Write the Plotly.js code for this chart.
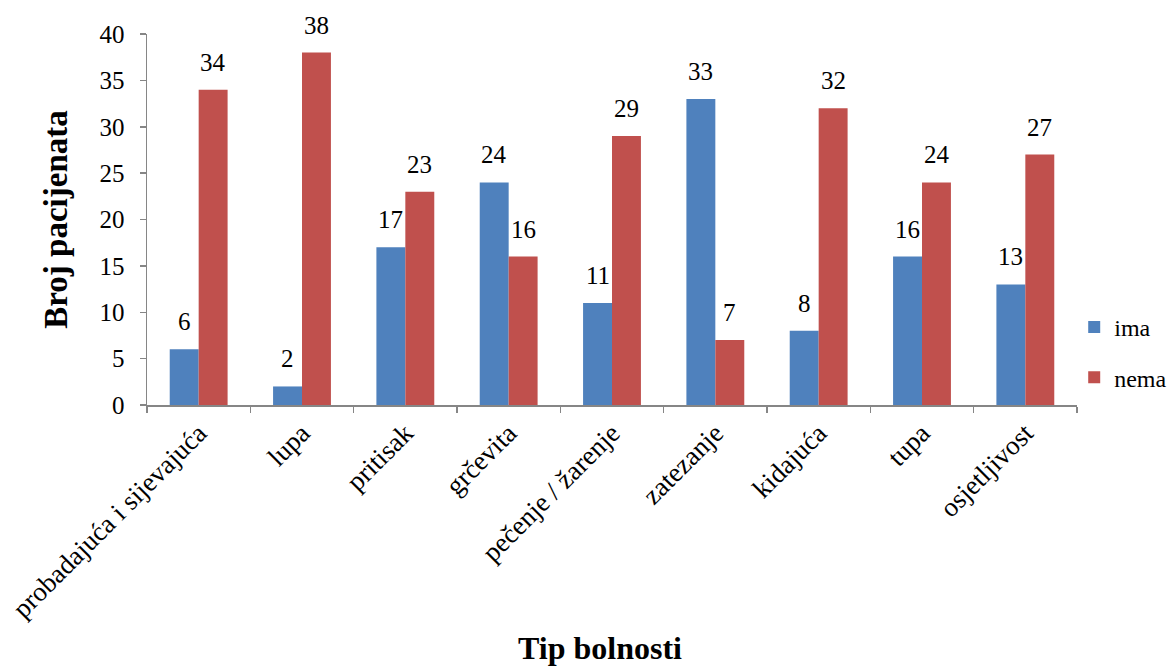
<!DOCTYPE html>
<html>
<head>
<meta charset="utf-8">
<script src="https://cdn.plot.ly/plotly-3.0.1.min.js"></script>
<style>html,body{margin:0;padding:0;background:#fff;}#chart{width:1171px;height:666px;}</style>
</head>
<body>
<div id="chart"></div>
<script>
const categories = ["probadajuća i sijevajuća","lupa","pritisak","grčevita","pečenje / žarenje","zatezanje","kidajuća","tupa","osjetljivost"];
const ima = [6,2,17,24,11,33,8,16,13];
const nema = [34,38,23,16,29,7,32,24,27];
const yTicks = [0,5,10,15,20,25,30,35,40];

const font = {family: "Liberation Serif", color: "#000"};
const traces = [
  {type:"bar", name:"ima", x:categories, y:ima, marker:{color:"#4F81BD"}, legendgroup:"a"},
  {type:"bar", name:"nema", x:categories, y:nema, marker:{color:"#C0504D"}, legendgroup:"b"}
];
const annotations = [];
categories.forEach((c, i) => {
  annotations.push({x:c, y:ima[i], text:String(ima[i]), showarrow:false, xanchor:"center", yanchor:"bottom",
    xshift:-14.5, yshift:12, font:{...font, size:25}});
  annotations.push({x:c, y:nema[i], text:String(nema[i]), showarrow:false, xanchor:"center", yanchor:"bottom",
    xshift:14.5, yshift:12, font:{...font, size:25}});
});
const layout = {
  width:1171, height:666,
  margin:{l:147, r:94, t:34, b:261, autoexpand:false},
  paper_bgcolor:"#fff", plot_bgcolor:"#fff",
  font:{...font, size:24},
  barmode:"group", bargap:0.44, bargroupgap:0,
  showlegend:true,
  annotations:annotations,
  legend:{x:0.997, xanchor:"left", y:0.27, yanchor:"top", font:{...font, size:24}, traceorder:"grouped", tracegroupgap:16, itemwidth:30},
  xaxis:{
    type:"category", tickangle:-45, tickfont:{...font, size:27},
    showline:true, linecolor:"#868686", linewidth:1.5,
    ticks:"outside", tickson:"boundaries", ticklen:6, tickcolor:"#868686", tickwidth:1.5,
    title:{text:"<b>Tip bolnosti</b>&nbsp;&nbsp;&nbsp;", font:{...font, size:32}, standoff:30},
    showgrid:false, zeroline:false
  },
  yaxis:{
    range:[0,40], tickvals:yTicks, ticktext:yTicks.map(String), tickfont:{...font, size:25},
    showline:true, linecolor:"#868686", linewidth:1.5,
    ticks:"outside", ticklen:6, tickcolor:"#868686", tickwidth:1.5, ticklabelstandoff:10,
    title:{text:"<b>Broj pacijenata</b>", font:{...font, size:33}, standoff:22},
    showgrid:false, zeroline:false
  }
};
Plotly.newPlot("chart", traces, layout, {displayModeBar:false, staticPlot:true});
</script>
</body>
</html>
